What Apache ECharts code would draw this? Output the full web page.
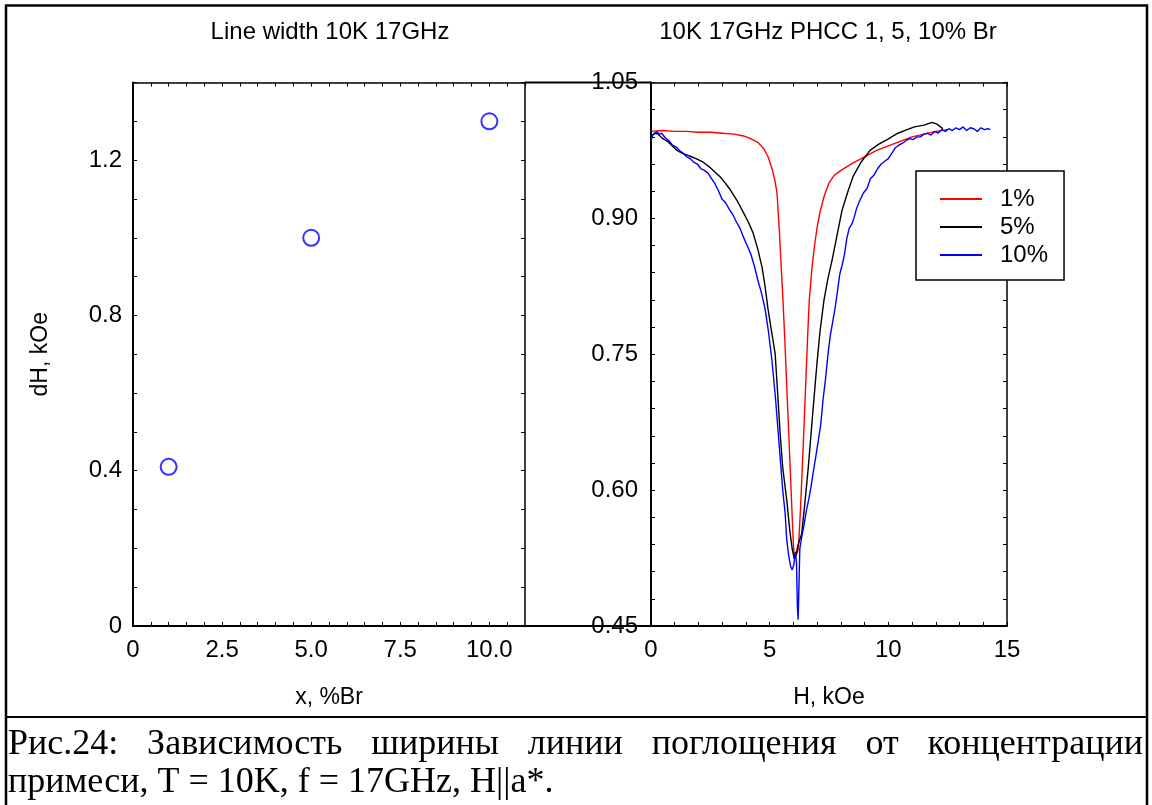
<!DOCTYPE html>
<html><head><meta charset="utf-8">
<script src="https://cdn.jsdelivr.net/npm/echarts@6/dist/echarts.min.js"></script>
<style>html,body{margin:0;padding:0;background:#fff}#c{width:1152px;height:805px}</style>
</head><body><div id="c"></div>
<script>
// ---------- Data ----------
const leftTitle = 'Line width 10K 17GHz';
const rightTitle = '10K 17GHz PHCC 1, 5, 10% Br';
const leftXName = 'x, %Br';
const leftYName = 'dH, kOe';
const rightXName = 'H, kOe';
const seriesNames = ['1%', '5%', '10%'];
const captionLine1 = ['Рис.24:', 'Зависимость', 'ширины', 'линии', 'поглощения', 'от', 'концентрации'];
const captionLine2 = 'примеси, T = 10K, f = 17GHz, H||a*.';

// Left panel: line width vs Br concentration
const brPercent = [1, 5, 10];
const lineWidth = [0.41, 1.0, 1.3];

// Right panel: absorption curves
const redH = [0, 0.5, 1, 1.5, 2, 2.5, 3, 3.5, 3.9, 4.2, 4.5, 4.75, 4.93, 5.1, 5.22, 5.31, 5.4, 5.48, 5.56, 5.64, 5.72, 5.8, 5.88, 5.95, 6.0, 6.04, 6.12, 6.21, 6.3, 6.4, 6.5, 6.6, 6.67, 6.78, 6.9, 7.0, 7.12, 7.3, 7.5, 7.7, 8.0, 8.5, 9.0, 9.5, 10.0, 10.5, 11.0, 11.5, 12.0, 12.5];
const redV = [0.996, 0.997, 0.996, 0.996, 0.995, 0.995, 0.994, 0.993, 0.991, 0.988, 0.984, 0.977, 0.968, 0.955, 0.942, 0.928, 0.89, 0.85, 0.81, 0.765, 0.715, 0.665, 0.615, 0.57, 0.54, 0.524, 0.528, 0.535, 0.58, 0.64, 0.705, 0.77, 0.81, 0.845, 0.872, 0.89, 0.907, 0.925, 0.939, 0.947, 0.953, 0.961, 0.968, 0.975, 0.98, 0.985, 0.99, 0.993, 0.996, 0.998];

const blackH = [0, 0.15, 0.3, 0.5, 0.7, 0.9, 1.1, 1.3, 1.5, 1.7, 1.9, 2.2, 2.5, 2.7, 2.91, 3.1, 3.3, 3.62, 3.9, 4.1, 4.3, 4.5, 4.68, 4.8, 4.93, 5.05, 5.23, 5.33, 5.44, 5.55, 5.72, 5.85, 5.95, 6.04, 6.12, 6.2, 6.35, 6.5, 6.63, 6.8, 6.98, 7.12, 7.29, 7.45, 7.63, 7.85, 8.05, 8.3, 8.51, 8.85, 9.23, 9.6, 9.95, 10.4, 10.79, 11.1, 11.5, 11.84, 12.05, 12.3];
const blackV = [0.991, 0.994, 0.993, 0.988, 0.985, 0.98, 0.975, 0.972, 0.97, 0.968, 0.966, 0.962, 0.956, 0.951, 0.946, 0.94, 0.933, 0.92, 0.906, 0.896, 0.884, 0.866, 0.846, 0.826, 0.8, 0.78, 0.751, 0.71, 0.663, 0.625, 0.589, 0.555, 0.535, 0.524, 0.53, 0.54, 0.552, 0.59, 0.626, 0.68, 0.736, 0.775, 0.81, 0.833, 0.854, 0.883, 0.909, 0.93, 0.946, 0.962, 0.975, 0.982, 0.987, 0.994, 0.998, 1.001, 1.003, 1.006, 1.004, 0.999];

const blueH = [0, 0.08, 0.15, 0.25, 0.35, 0.45, 0.6, 0.75, 0.9, 1.05, 1.2, 1.35, 1.5, 1.65, 1.8, 1.95, 2.1, 2.25, 2.4, 2.55, 2.7, 2.85, 3.0, 3.15, 3.3, 3.45, 3.6, 3.75, 3.9, 4.05, 4.2, 4.35, 4.5, 4.65, 4.8, 4.95, 5.1, 5.25, 5.4, 5.55, 5.65, 5.72, 5.8, 5.88, 5.95, 6.02, 6.08, 6.13, 6.17, 6.2, 6.23, 6.27, 6.35, 6.45, 6.55, 6.65, 6.75, 6.85, 6.95, 7.05, 7.15, 7.25, 7.35, 7.45, 7.55, 7.65, 7.75, 7.85, 7.95, 8.05, 8.15, 8.25, 8.35, 8.45, 8.55, 8.65, 8.8, 8.95, 9.1, 9.25, 9.4, 9.55, 9.7, 9.85, 10.0, 10.15, 10.3, 10.45, 10.6, 10.75, 10.9, 11.05, 11.2, 11.35, 11.5, 11.65, 11.8, 11.95, 12.1, 12.25, 12.4, 12.55, 12.7, 12.85, 13.0, 13.15, 13.3, 13.45, 13.6, 13.75, 13.9, 14.05, 14.2, 14.3];
const blueV = [0.986, 0.992, 0.994, 0.996, 0.993, 0.994, 0.989, 0.986, 0.981, 0.979, 0.975, 0.972, 0.968, 0.966, 0.962, 0.96, 0.955, 0.953, 0.95, 0.944, 0.938, 0.93, 0.921, 0.917, 0.91, 0.904, 0.896, 0.889, 0.879, 0.87, 0.861, 0.848, 0.832, 0.818, 0.801, 0.775, 0.742, 0.7, 0.65, 0.6, 0.575, 0.545, 0.528, 0.516, 0.512, 0.518, 0.532, 0.52, 0.47, 0.457, 0.49, 0.535, 0.548, 0.562, 0.578, 0.59, 0.605, 0.622, 0.638, 0.655, 0.672, 0.7, 0.722, 0.748, 0.77, 0.785, 0.8, 0.818, 0.838, 0.848, 0.86, 0.878, 0.889, 0.893, 0.9, 0.91, 0.92, 0.928, 0.933, 0.944, 0.948, 0.955, 0.96, 0.963, 0.966, 0.972, 0.978, 0.981, 0.983, 0.986, 0.988, 0.987, 0.99, 0.99, 0.993, 0.994, 0.992, 0.996, 0.994, 0.998, 0.996, 0.999, 0.997, 1.0, 0.998, 1.001, 0.997, 1.0, 0.999, 0.996, 1.0, 0.998, 0.999, 0.998];

// ---------- Helpers ----------
const zip = (a, b) => a.map((v, i) => [v, b[i]]);
const isMult = (v, step) => Math.abs(v / step - Math.round(v / step)) < 1e-6;
const SANS = '"Liberation Sans", Arial, sans-serif';
const SERIF = '"Liberation Serif", "Times New Roman", serif';
const TICK_FS = 24;

const G0 = { left: 133, top: 82.5, width: 392, height: 543.5 };
const G1 = { left: 651, top: 82.5, width: 356, height: 543.5 };

function mirrorAxis(type, gridIndex, position, extra) {
  return Object.assign({
    type: 'value', gridIndex, position,
    axisLine: { show: true, onZero: false, lineStyle: { color: '#000', width: 1.5 } },
    axisTick: { show: true, inside: true, length: 4, lineStyle: { color: '#000', width: 1 } },
    axisLabel: { show: false }, splitLine: { show: false }
  }, extra);
}
function mainAxis(gridIndex, position, extra) {
  return Object.assign({
    type: 'value', gridIndex, position,
    axisLine: { show: true, onZero: false, lineStyle: { color: '#000', width: 2 } },
    axisTick: { show: true, inside: true, length: 4, lineStyle: { color: '#000', width: 1 } },
    splitLine: { show: false },
    nameTextStyle: { fontFamily: SANS, fontSize: 23, color: '#000' },
  }, extra);
}

// ---------- Caption layout (first line justified, second line natural) ----------
const meas = document.createElement('canvas').getContext('2d');
const CAP_FS = 36;
const CAP_FONT = CAP_FS + 'px ' + SERIF;
meas.font = CAP_FONT;
function spreadWords(words, x0, x1, y) {
  const w = words.map(t => meas.measureText(t).width);
  const g = (x1 - x0 - w.reduce((a, b) => a + b, 0)) / (words.length - 1);
  const out = [];
  let x = x0;
  words.forEach((t, i) => {
    out.push({ type: 'text', x: x, y: y, style: { text: t, font: CAP_FONT, fill: '#000', textAlign: 'left', textVerticalAlign: 'middle' } });
    x += w[i] + g;
  });
  return out;
}
const captionElems = spreadWords(captionLine1, 8, 1143, 745).concat([
  { type: 'text', x: 8, y: 783, style: { text: captionLine2, font: CAP_FONT, fill: '#000', textAlign: 'left', textVerticalAlign: 'middle' } }
]);

const chart = echarts.init(document.getElementById('c'), null, { renderer: 'canvas' });
const option = {
  backgroundColor: '#fff',
  animation: false,
  grid: [
    Object.assign({ containLabel: false }, G0),
    Object.assign({ containLabel: false }, G1)
  ],
  xAxis: [
    mainAxis(0, 'bottom', {
      min: 0, max: 11, interval: 0.5,
      name: leftXName, nameLocation: 'middle', nameGap: 60,
      axisLabel: { showMaxLabel: false, margin: 12, fontFamily: SANS, fontSize: TICK_FS, color: '#000',
        formatter: v => isMult(v, 2.5) ? (v === 0 ? '0' : v.toFixed(1)) : '' }
    }),
    mirrorAxis('x', 0, 'top', { min: 0, max: 11, interval: 0.5 }),
    mainAxis(1, 'bottom', {
      min: 0, max: 15, interval: 1,
      name: rightXName, nameLocation: 'middle', nameGap: 60,
      axisLabel: { margin: 12, fontFamily: SANS, fontSize: TICK_FS, color: '#000',
        formatter: v => isMult(v, 5) ? String(Math.round(v)) : '' }
    }),
    mirrorAxis('x', 1, 'top', { min: 0, max: 15, interval: 1 })
  ],
  yAxis: [
    mainAxis(0, 'left', {
      min: 0, max: 1.4, interval: 0.1,
      name: leftYName, nameLocation: 'middle', nameGap: 81, nameRotate: 90,
      axisLabel: { margin: 11, fontFamily: SANS, fontSize: TICK_FS, color: '#000',
        formatter: v => isMult(v, 0.4) ? (Math.abs(v) < 1e-9 ? '0' : v.toFixed(1)) : '' }
    }),
    mirrorAxis('y', 0, 'right', { min: 0, max: 1.4, interval: 0.1 }),
    mainAxis(1, 'left', {
      min: 0.45, max: 1.05, interval: 0.03,
      axisLabel: { margin: 13, fontFamily: SANS, fontSize: TICK_FS, color: '#000',
        formatter: v => isMult(v - 0.45, 0.15) ? v.toFixed(2) : '' }
    }),
    mirrorAxis('y', 1, 'right', { min: 0.45, max: 1.05, interval: 0.03 })
  ],
  legend: {
    data: seriesNames,
    orient: 'vertical',
    left: 916, top: 171,
    backgroundColor: '#fff',
    borderColor: '#000', borderWidth: 1.5, borderRadius: 0,
    padding: [16, 16, 13, 24],
    itemGap: 4,
    itemWidth: 42, itemHeight: 2,
    icon: 'rect',
    textStyle: { fontFamily: SANS, fontSize: TICK_FS, color: '#000', padding: [0, 0, 0, 13] },
    selectedMode: false
  },
  series: [
    { type: 'scatter', name: 'dH', xAxisIndex: 0, yAxisIndex: 0, data: zip(brPercent, lineWidth),
      symbol: 'emptyCircle', symbolSize: 16, itemStyle: { color: '#0000ff', borderColor: '#0000ff', borderWidth: 1.5 } },
    { type: 'line', name: seriesNames[0], xAxisIndex: 2, yAxisIndex: 2, data: zip(redH, redV),
      showSymbol: false, symbol: 'none', lineStyle: { color: '#ff0000', width: 1.4 }, itemStyle: { color: '#ff0000' } },
    { type: 'line', name: seriesNames[1], xAxisIndex: 2, yAxisIndex: 2, data: zip(blackH, blackV),
      showSymbol: false, symbol: 'none', lineStyle: { color: '#000000', width: 1.4 }, itemStyle: { color: '#000000' } },
    { type: 'line', name: seriesNames[2], xAxisIndex: 2, yAxisIndex: 2, data: zip(blueH, blueV),
      showSymbol: false, symbol: 'none', lineStyle: { color: '#0000ff', width: 1.4 }, itemStyle: { color: '#0000ff' } }
  ],
  graphic: [
    // outer figure frame
    { type: 'polyline', shape: { points: [[6, 805], [6, 5.5], [1147, 5.5], [1147, 805]] }, style: { stroke: '#000', lineWidth: 2.5, fill: null } },
    { type: 'line', shape: { x1: 6, y1: 717, x2: 1147, y2: 717 }, style: { stroke: '#000', lineWidth: 2 } },
    // connecting frame segments between the two panels
    { type: 'line', shape: { x1: 525, y1: 82.5, x2: 651, y2: 82.5 }, style: { stroke: '#000', lineWidth: 2 } },
    { type: 'line', shape: { x1: 525, y1: 626, x2: 651, y2: 626 }, style: { stroke: '#000', lineWidth: 2 } },
    // panel titles
    { type: 'text', x: 330, y: 32, style: { text: leftTitle, font: '24px ' + SANS, fill: '#000', textAlign: 'center', textVerticalAlign: 'middle' } },
    { type: 'text', x: 828, y: 32, style: { text: rightTitle, font: '24px ' + SANS, fill: '#000', textAlign: 'center', textVerticalAlign: 'middle' } }
  ].concat(captionElems)
};
chart.setOption(option);
</script>
</body></html>
